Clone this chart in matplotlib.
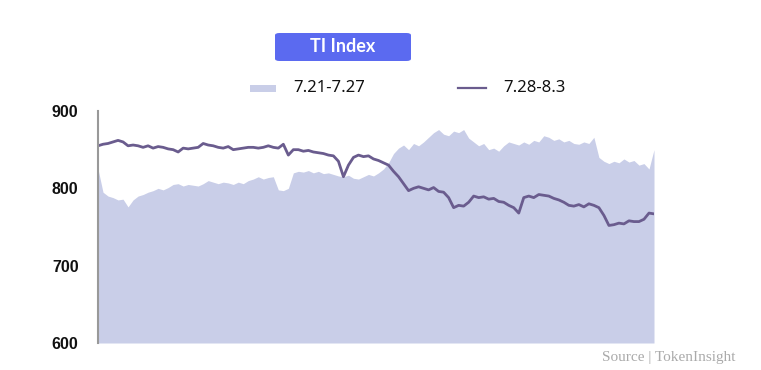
import matplotlib
matplotlib.use("Agg")
import matplotlib.pyplot as plt
import numpy as np
from matplotlib.patches import FancyBboxPatch

series_prev_label = "7.21-7.27"
series_curr_label = "7.28-8.3"
title = "TI Index"
source = "Source | TokenInsight"
y_ticks = [600, 700, 800, 900]

prev_week = [825, 795, 790, 788, 785, 786, 776, 785, 790, 792, 795, 797, 800, 798, 801, 805,
             806, 803, 805, 804, 803, 806, 810, 808, 806, 808, 807, 805, 808, 806, 810, 812,
             815, 812, 814, 815, 798, 797, 800, 820, 822, 821, 823, 820, 822, 819, 820, 818,
             816, 815, 817, 813, 812, 815, 818, 816, 820, 825, 833, 845, 852, 856, 850, 858,
             855, 860, 866, 872, 876, 870, 868, 874, 872, 876, 865, 860, 855, 858, 850, 852,
             848, 855, 860, 858, 856, 860, 857, 862, 860, 868, 866, 862, 864, 860, 862, 858,
             857, 860, 858, 866, 840, 835, 832, 835, 833, 838, 834, 836, 830, 832, 825, 850]

curr_week = [855, 857, 858, 860, 862, 860, 855, 856, 855, 853, 855, 852, 854, 853, 851, 850,
             847, 852, 851, 852, 853, 858, 856, 855, 853, 852, 854, 850, 851, 852, 853, 853,
             852, 853, 855, 853, 852, 857, 843, 850, 850, 848, 849, 847, 846, 845, 843, 842,
             835, 815, 830, 840, 843, 841, 842, 838, 836, 833, 830, 822, 815, 806, 797, 800,
             802, 800, 798, 801, 796, 795, 788, 775, 778, 777, 782, 790, 788, 789, 786, 787,
             783, 782, 778, 775, 768, 788, 790, 788, 792, 791, 790, 787, 785, 782, 778, 777,
             779, 776, 780, 778, 775, 765, 752, 753, 755, 754, 758, 757, 757, 760, 768, 767]

W, H = 761, 370
fig = plt.figure(figsize=(W / 100, H / 100), dpi=100)
ax = fig.add_axes([98 / W, 1 - 343 / H, (654 - 98) / W, (343 - 111) / H])

area_color = "#c9cee8"
line_color = "#6a5c8e"

xp = np.linspace(0, 1, len(prev_week))
xc = np.linspace(0, 1, len(curr_week))
ax.fill_between(xp, 600, prev_week, color=area_color, linewidth=0, zorder=1)
ax.plot(xc, curr_week, color=line_color, linewidth=2.0, zorder=2)

ax.set_xlim(0, 1)
ax.set_ylim(600, 900)
ax.set_yticks(y_ticks)
ax.set_yticklabels([str(t) for t in y_ticks], fontsize=11.5, family="Liberation Sans",
                   color="#111111", fontweight="bold")
ax.tick_params(axis="y", length=0, pad=14)
ax.set_xticks([])
for s in ["top", "right", "bottom"]:
    ax.spines[s].set_visible(False)
ax.spines["left"].set_color("#999999")
ax.spines["left"].set_linewidth(1.5)

# Title box
box = FancyBboxPatch((275 / W, 1 - 61 / H), (411 - 275) / W, (61 - 33) / H,
                     boxstyle="round,pad=0,rounding_size=0.006", transform=fig.transFigure,
                     facecolor="#5b6af0", edgecolor="none")
fig.patches.append(box)
fig.text(343 / W, 1 - 47 / H, title, color="white", fontsize=13, fontweight="bold",
         ha="center", va="center", family="Lato")

# Legend
fig.patches.append(plt.Rectangle((250 / W, 1 - 92 / H), 26 / W, 7 / H,
                                 transform=fig.transFigure, facecolor=area_color,
                                 edgecolor="none"))
fig.text(293 / W, 1 - 88 / H, series_prev_label, fontsize=12, ha="left", va="center",
         family="Noto Sans", color="#111111")
fig.add_artist(plt.Line2D([458 / W, 486 / W], [1 - 88 / H, 1 - 88 / H],
                          transform=fig.transFigure, color=line_color, linewidth=1.6))
fig.text(503 / W, 1 - 88 / H, series_curr_label, fontsize=12, ha="left", va="center",
         family="Noto Sans", color="#111111")

fig.text(735 / W, 1 - 358 / H, source, fontsize=11, ha="right", va="center",
         family="Liberation Serif", color="#aaaaaa")

fig.savefig("out.png", dpi=100)
